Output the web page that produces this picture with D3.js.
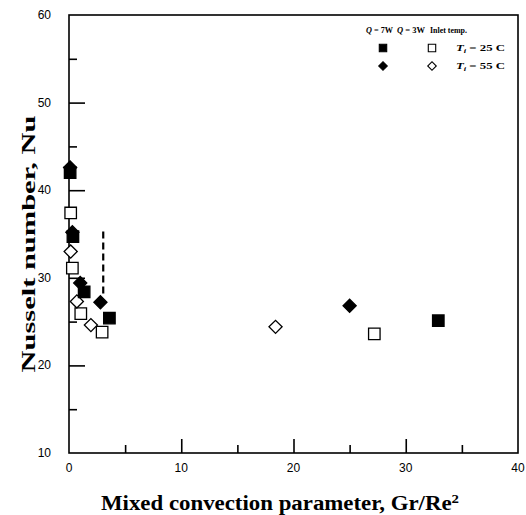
<!DOCTYPE html>
<html>
<head>
<meta charset="utf-8">
<script src="https://cdn.jsdelivr.net/npm/d3@7"></script>
<style>
  body { margin: 0; background: #fff; }
  svg { display: block; }
</style>
</head>
<body>
<div id="chart"></div>
<script>
// Data
var sqFilledX = [0.1, 0.35, 1.35, 3.6, 32.9]   // Q = 7W, Ti = 25 C
var sqFilledY = [42.0, 34.7, 28.4, 25.4, 25.1]
var sqOpenX = [0.15, 0.3, 1.05, 2.95, 27.2]    // Q = 3W, Ti = 25 C
var sqOpenY = [37.4, 31.1, 25.9, 23.8, 23.6]
var diFilledX = [0.1, 0.3, 1.0, 2.8, 25.0]     // Q = 7W, Ti = 55 C
var diFilledY = [42.6, 35.2, 29.4, 27.2, 26.8]
var diOpenX = [0.15, 0.7, 1.95, 18.4]          // Q = 3W, Ti = 55 C
var diOpenY = [33.0, 27.3, 24.6, 24.4]
var dashLine = { x: 3.05, y0: 28.2, y1: 35.4 }
var xTicks = [0, 10, 20, 30, 40]
var yTicks = [10, 20, 30, 40, 50, 60]

var width = 526
var height = 515
var margin = { top: 15, right: 8, bottom: 62, left: 69 }
var chartWidth = width - margin.left - margin.right
var chartHeight = height - margin.top - margin.bottom

var xScale = d3.scaleLinear().domain([0, 40]).range([0, chartWidth])
var yScale = d3.scaleLinear().domain([10, 60]).range([chartHeight, 0])

var svg = d3.select('#chart').append('svg')
  .attr('width', width)
  .attr('height', height)

var g = svg.append('g')
  .attr('transform', 'translate(' + margin.left + ',' + margin.top + ')')

// Frame
g.append('rect')
  .attr('width', chartWidth)
  .attr('height', chartHeight)
  .attr('fill', 'none')
  .attr('stroke', '#000')
  .attr('stroke-width', 1.6)

// Inward ticks, major every 10, minor every 5
var xMinor = d3.range(5, 40, 10)
var yMinor = d3.range(15, 60, 10)
g.append('g')
  .attr('transform', 'translate(0,' + chartHeight + ')')
  .call(d3.axisTop(xScale).tickValues([10, 20, 30]).tickSize(14).tickFormat(''))
  .call(function (a) { a.select('.domain').remove() })
g.append('g')
  .attr('transform', 'translate(0,' + chartHeight + ')')
  .call(d3.axisTop(xScale).tickValues(xMinor).tickSize(8).tickFormat(''))
  .call(function (a) { a.select('.domain').remove() })
g.append('g')
  .call(d3.axisRight(yScale).tickValues([20, 30, 40, 50]).tickSize(16).tickFormat(''))
  .call(function (a) { a.select('.domain').remove() })
g.append('g')
  .call(d3.axisRight(yScale).tickValues(yMinor).tickSize(8).tickFormat(''))
  .call(function (a) { a.select('.domain').remove() })
g.selectAll('.tick line').attr('stroke-width', 1.6)

// Tick labels
g.selectAll('.xlab').data(xTicks).enter().append('text')
  .attr('x', function (d) { return xScale(d) })
  .attr('y', chartHeight + 19)
  .attr('text-anchor', 'middle')
  .style('font', '12px "Liberation Sans", Arial, sans-serif')
  .text(function (d) { return d })
g.selectAll('.ylab').data(yTicks).enter().append('text')
  .attr('x', -18)
  .attr('y', function (d) { return yScale(d) + 4 })
  .attr('text-anchor', 'end')
  .style('font', '12px "Liberation Sans", Arial, sans-serif')
  .text(function (d) { return d })

// Axis titles
var xt = svg.append('text')
  .attr('x', 280)
  .attr('y', 510)
  .attr('text-anchor', 'middle')
  .attr('textLength', 358)
  .attr('lengthAdjust', 'spacingAndGlyphs')
  .style('font', 'bold 20px "Liberation Serif", "Times New Roman", serif')
xt.append('tspan').text('Mixed convection parameter, Gr/Re')
xt.append('tspan').attr('dy', -7).style('font-size', '13px').text('2')

svg.append('text')
  .attr('transform', 'translate(35,244) rotate(-90)')
  .attr('text-anchor', 'middle')
  .attr('textLength', 257)
  .attr('lengthAdjust', 'spacingAndGlyphs')
  .style('font', 'bold 19px "Liberation Serif", "Times New Roman", serif')
  .text('Nusselt number, Nu')

// Dashed marker line
g.append('line')
  .attr('x1', xScale(dashLine.x)).attr('x2', xScale(dashLine.x))
  .attr('y1', yScale(dashLine.y0)).attr('y2', yScale(dashLine.y1))
  .attr('stroke', '#000')
  .attr('stroke-width', 2.2)
  .attr('stroke-dasharray', '7,4')

function pts(xs, ys) {
  return xs.map(function (x, i) { return { x: x, y: ys[i] } })
}

// squares, and diamonds as squares turned 45 degrees
var sqSym = d3.symbol().type(d3.symbolSquare).size(132)
var diSym = d3.symbol().type(d3.symbolSquare).size(86)

function drawSeries(data, sym, filled, rot) {
  g.append('g').selectAll('path').data(data).enter().append('path')
    .attr('d', sym)
    .attr('transform', function (d) {
      return 'translate(' + xScale(d.x) + ',' + yScale(d.y) + ') rotate(' + rot + ')'
    })
    .attr('fill', filled ? '#000' : '#fff')
    .attr('stroke', '#000')
    .attr('stroke-width', 1.3)
}

drawSeries(pts(sqOpenX, sqOpenY), sqSym, false, 0)
drawSeries(pts(diOpenX, diOpenY), diSym, false, 45)
drawSeries(pts(sqFilledX, sqFilledY), sqSym, true, 0)
drawSeries(pts(diFilledX, diFilledY), diSym, true, 45)

// Legend
var legFont = 'bold 9px "Liberation Serif", "Times New Roman", serif'
var leg = svg.append('g')
function legText(x, y, len, parts) {
  var t = leg.append('text').attr('x', x).attr('y', y)
    .attr('textLength', len)
    .attr('lengthAdjust', 'spacingAndGlyphs')
    .style('font', legFont)
  parts.forEach(function (p) {
    var s = t.append('tspan').text(p.t)
    if (p.i) s.style('font-style', 'italic')
    if (p.sub) s.attr('dy', 2).style('font-size', '6px')
    if (p.up) s.attr('dy', -2)
  })
}
legText(366, 33, 27, [{ t: 'Q', i: true }, { t: ' = 7W' }])
legText(397, 33, 28, [{ t: 'Q', i: true }, { t: ' = 3W' }])
legText(430, 33, 37, [{ t: 'Inlet temp.' }])
legText(456, 51, 49, [{ t: 'T', i: true }, { t: 'i', i: true, sub: true }, { t: ' = 25  C', up: true }])
legText(456, 69, 49, [{ t: 'T', i: true }, { t: 'i', i: true, sub: true }, { t: ' = 55  C', up: true }])

var legSq = d3.symbol().type(d3.symbolSquare).size(55)
var legDi = d3.symbol().type(d3.symbolSquare).size(36)
var legMarks = [
  { x: 383, y: 48, s: legSq, f: true, r: 0 },
  { x: 432, y: 48, s: legSq, f: false, r: 0 },
  { x: 383, y: 66, s: legDi, f: true, r: 45 },
  { x: 432, y: 66, s: legDi, f: false, r: 45 }
]
leg.selectAll('path').data(legMarks).enter().append('path')
  .attr('d', function (d) { return d.s() })
  .attr('transform', function (d) { return 'translate(' + d.x + ',' + d.y + ') rotate(' + d.r + ')' })
  .attr('fill', function (d) { return d.f ? '#000' : '#fff' })
  .attr('stroke', '#000')
  .attr('stroke-width', 1.1)
</script>
</body>
</html>
